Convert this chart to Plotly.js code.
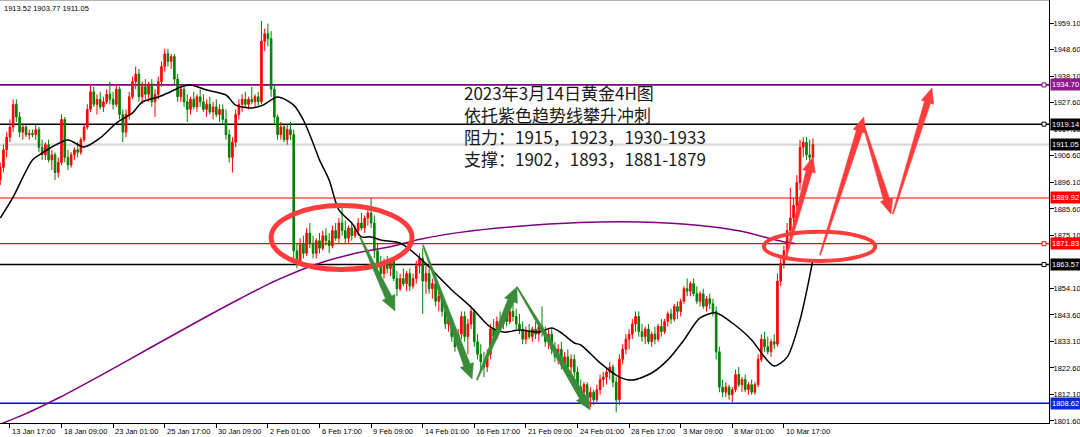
<!DOCTYPE html>
<html><head><meta charset="utf-8">
<script src="https://cdn.plot.ly/plotly-3.0.1.min.js"></script>
<style>html,body{margin:0;padding:0;background:#fff;}#chart{width:1080px;height:437px;}</style>
</head><body><div id="chart"></div>
<script>
// ---- data (XAUUSD H4) ----
const openP = [1893,1897,1902,1909,1914,1918,1927,1922,1916,1918,1915,1915.5,1915,1917,1910,1907,1911,1905,1907,1900,
1904,1921,1906,1903,1907,1909,1908,1913,1918,1925,1932,1927,1929,1926,1928,1931,1929,1927,1933,1923,
1916,1923,1930,1936,1939,1930,1934,1931,1935,1928,1931,1936,1942,1947,1944,1946,1937,1930,1933,1928,
1925,1929,1926,1930,1928,1925,1927,1924,1926,1923,1925,1921,1915,1906,1912,1923,1927,1929,1927,1929,
1928,1930,1928,1952,1955,1953,1933,1922,1915,1918,1913,1917,1915,1869,1865,1872,1868,1876,1872,1868,
1873,1870,1875,1873,1871,1877,1874,1880,1877,1874,1878,1875,1877,1880,1878,1882,1884,1880,1869,1864,
1860,1864,1862,1865,1858,1854,1858,1856,1860,1855,1858,1863,1866,1857,1860,1854,1856,1849,1851,1845,
1840,1842,1835,1831,1836,1843,1835,1840,1845,1833,1828,1825,1823,1828,1838,1835,1841,1840,1844,1841,
1845,1843,1840,1838,1834,1837,1835,1838,1836,1839,1837,1833,1836,1830,1827,1830,1824,1827,1823,1826,
1821,1815,1813,1816,1811,1813,1810,1814,1818,1819,1821,1823,1817,1810,1826,1830,1834,1836,1840,1843,
1837,1835,1838,1833,1836,1834,1839,1837,1841,1844,1842,1847,1845,1849,1854,1853,1856,1852,1849,1852,
1847,1850,1848,1845,1829,1815,1813,1815,1812,1814,1820,1816,1818,1814,1816,1813,1816,1826,1834,1831,
1829,1833,1832,1857,1864,1869,1877,1882,1887,1896,1910,1912,1907,1906];
const highP = [1898,1904,1911,1916,1921,1929,1929,1924,1919,1919,1917,1917,1919,1918,1913,1912,1913,1909,1908,1906,
1923,1922,1909,1908,1910,1912,1914,1919,1927,1935,1934,1931,1932,1930,1933,1936,1932,1935,1934,1925,
1925,1932,1938,1942,1941,1936,1937,1936,1937,1933,1938,1944,1949,1949,1947,1947,1939,1935,1935,1931,
1930,1932,1931,1933,1931,1929,1930,1928,1929,1927,1927,1925,1917,1914,1925,1929,1931,1932,1930,1934,
1931,1932,1960,1957,1959,1956,1935,1923,1920,1919,1919,1920,1917,1872,1874,1875,1878,1880,1875,1874,
1876,1877,1878,1876,1879,1880,1882,1886,1881,1879,1880,1879,1882,1884,1883,1886,1890,1883,1872,1867,
1866,1867,1866,1866,1861,1860,1862,1861,1862,1860,1865,1868,1870,1864,1862,1858,1857,1853,1852,1848,
1844,1843,1838,1838,1845,1845,1842,1847,1846,1836,1832,1829,1830,1840,1842,1843,1845,1845,1846,1847,
1848,1846,1844,1841,1839,1840,1839,1841,1840,1847,1839,1838,1838,1833,1832,1833,1829,1830,1828,1828,
1823,1818,1817,1817,1815,1814,1816,1820,1821,1823,1825,1824,1819,1828,1832,1836,1838,1842,1845,1845,
1840,1839,1840,1837,1839,1840,1842,1842,1845,1846,1848,1849,1850,1855,1858,1857,1858,1855,1853,1854,
1851,1852,1850,1847,1831,1818,1817,1816,1815,1822,1823,1819,1820,1817,1818,1817,1828,1836,1837,1835,
1834,1836,1860,1866,1871,1880,1894,1890,1899,1913,1914,1914,1913,1913.52];
const lowP = [1891,1895,1900,1906,1912,1916,1920,1914,1913,1914,1913,1914,1913,1908,1905,1905,1904,1901,1897,1898,
1903,1904,1901,1902,1905,1906,1907,1912,1917,1924,1926,1923,1925,1924,1927,1927,1925,1926,1921,1912,
1914,1921,1929,1933,1928,1927,1929,1928,1926,1922,1929,1934,1940,1942,1941,1935,1928,1928,1926,1920,
1923,1925,1924,1926,1924,1922,1923,1921,1922,1920,1919,1913,1904,1900,1910,1921,1924,1926,1925,1927,
1926,1926,1927,1948,1950,1930,1919,1913,1913,1912,1911,1913,1866,1862,1863,1866,1867,1870,1866,1866,
1868,1869,1871,1868,1870,1873,1872,1875,1872,1872,1873,1874,1875,1877,1876,1879,1878,1866,1862,1858,
1858,1860,1859,1857,1851,1853,1855,1853,1853,1854,1856,1860,1844,1852,1852,1850,1847,1845,1843,1838,
1837,1833,1829,1830,1834,1833,1828,1838,1831,1826,1822,1819,1821,1826,1833,1834,1838,1838,1839,1840,
1841,1838,1836,1832,1832,1834,1833,1834,1833,1835,1831,1830,1828,1825,1824,1822,1822,1821,1820,1819,
1813,1811,1811,1809,1807,1808,1809,1812,1815,1816,1818,1815,1805,1808,1824,1828,1830,1834,1837,1835,
1833,1832,1832,1831,1832,1833,1835,1836,1839,1840,1841,1842,1843,1848,1851,1851,1851,1848,1847,1846,
1845,1846,1843,1826,1813,1811,1811,1810,1809,1813,1815,1813,1813,1812,1812,1812,1815,1825,1829,1828,
1827,1830,1831,1855,1862,1866,1874,1878,1881,1893,1906,1905,1904,1903.77];
const closeP = [1897,1902,1909,1914,1918,1927,1922,1916,1918,1915,1915.5,1915,1917,1910,1907,1911,1905,1907,1900,1904,
1921,1906,1903,1907,1909,1908,1913,1918,1925,1932,1927,1929,1926,1928,1931,1929,1927,1933,1923,1916,
1923,1930,1936,1939,1930,1934,1931,1935,1928,1931,1936,1942,1947,1944,1946,1937,1930,1933,1928,1925,
1929,1926,1930,1928,1925,1927,1924,1926,1923,1925,1921,1915,1906,1912,1923,1927,1929,1927,1929,1928,
1930,1928,1952,1955,1953,1933,1922,1915,1918,1913,1917,1915,1869,1865,1872,1868,1876,1872,1868,1873,
1870,1875,1873,1871,1877,1874,1880,1877,1874,1878,1875,1877,1880,1878,1882,1884,1880,1869,1864,1860,
1864,1862,1865,1858,1854,1858,1856,1860,1855,1858,1863,1866,1857,1860,1854,1856,1849,1851,1845,1840,
1842,1835,1831,1836,1843,1835,1840,1845,1833,1828,1825,1823,1828,1838,1835,1841,1840,1844,1841,1845,
1843,1840,1838,1834,1837,1835,1838,1836,1839,1837,1833,1836,1830,1827,1830,1824,1827,1823,1826,1821,
1815,1813,1816,1811,1813,1810,1814,1818,1819,1821,1823,1817,1810,1826,1830,1834,1836,1840,1843,1837,
1835,1838,1833,1836,1834,1839,1837,1841,1844,1842,1847,1845,1849,1854,1853,1856,1852,1849,1852,1847,
1850,1848,1845,1829,1815,1813,1815,1812,1814,1820,1816,1818,1814,1816,1813,1816,1826,1834,1831,1829,
1833,1832,1857,1864,1869,1877,1882,1887,1896,1910,1912,1907,1906,1911.05];
const barIndex = closeP.map((_, i) => i);

// black moving average (bar index, price)
const maFastX = [1,5,11,14,17,22,27,32,37,42,45,50,53,57,60,65,71,74,79,82.5,87,92,95,98,100,103,106,110,113,116,119,125,129,134,137,141,147,153,157,162,168,172,175,179,181,187,193,197,203,208,213,218,223,228,234,238,241,245,249,253];
const maFastY = [1882.0,1890.3,1905.0,1907.7,1910.1,1912.9,1910.1,1913.7,1919.6,1923.6,1927.9,1929.9,1931.5,1933.9,1934.7,1932.7,1930.7,1926.7,1925.6,1926.7,1929.9,1926.7,1920.8,1911.7,1905.0,1897.0,1885.2,1880.0,1874.5,1874.5,1873.3,1872.1,1868.5,1862.6,1858.6,1853.5,1846.7,1838.8,1836.8,1837.6,1836.8,1838.4,1836.5,1832.5,1831.7,1824.6,1819.0,1817.8,1820.6,1825.8,1833.7,1842.4,1844.4,1840.4,1833.7,1826.9,1823.4,1826.9,1841.6,1865.4];
// purple moving average
const maSlowX = [0.9,8.1,19.5,31.9,47.4,62.9,75.3,86.8,100.2,112.6,121.9,131.2,143.6,160,180.8,199.4,218,230.4,243.7,247.4];
const maSlowY = [1800.3,1804.0,1811.0,1819.5,1830.5,1841.5,1850.0,1857.4,1864.2,1868.4,1870.6,1873.6,1876.3,1878.5,1880.2,1880.4,1879.0,1876.8,1872.6,1871.9];

const tickIndex = [4,20,36,52,68,84,100,116,132,148,164,180,196,212,228,244];
const tickLabels = ['13 Jan 17:00','18 Jan 09:00','23 Jan 01:00','25 Jan 17:00','30 Jan 09:00','2 Feb 01:00','6 Feb 17:00','9 Feb 09:00','14 Feb 01:00','16 Feb 17:00','21 Feb 09:00','24 Feb 01:00','28 Feb 17:00','3 Mar 09:00','8 Mar 01:00','10 Mar 17:00'];
const priceTicks = [1801.60,1812.10,1822.60,1833.10,1843.60,1854.10,1875.10,1885.60,1896.10,1906.60,1917.10,1927.60,1938.10,1948.60,1959.10];
const levelValues = [1934.70, 1919.14, 1911.05, 1889.92, 1871.83, 1863.57, 1808.62];
const headerText = '1913.52 1903.77 1911.05';
const noteLines = ['2023年3月14日黄金4H图','依托紫色趋势线攀升冲刺','阻力：1915，1923，1930-1933','支撑：1902，1893，1881-1879'];

// ---- styling / geometry ----
const PW = 1049, PH = 423;
const X0 = 0.93, X1 = 326.2;
const Y1 = 1968.33, Y0 = Y1 - PH / 2.525;
const levelStyle = [
  {color:'#800080', width:1.6, box:'#8e1a8e', mark:true},
  {color:'#000000', width:1.6, box:'#000000', mark:true},
  {color:'#d6d6d6', width:2.2, box:'#000000', mark:false},
  {color:'#ff0000', width:1.2, box:'#ff0000', mark:false},
  {color:'#ff0000', width:1.2, box:'#ff0000', mark:true},
  {color:'#000000', width:1.6, box:'#000000', mark:true},
  {color:'#0000ff', width:1.6, box:'#0a2ad6', mark:false}
];
const kToPx = k => (k - X0) / (X1 - X0) * PW;
const vToPy = v => (Y1 - v) / (Y1 - Y0) * PH;
const pxToK = p => X0 + p / PW * (X1 - X0);
const pyToV = p => Y1 - p / PH * (Y1 - Y0);

function arrowPath(tail, tip, o) {
  const tx = kToPx(tail[0]), ty = vToPy(tail[1]);
  const hx = kToPx(tip[0]), hy = vToPy(tip[1]);
  const dx = hx - tx, dy = hy - ty, L = Math.hypot(dx, dy);
  const ux = dx / L, uy = dy / L, nx = -uy, ny = ux;
  const bx = hx - ux * o.head, by = hy - uy * o.head;
  const pts = [
    [tx + nx * o.tail, ty + ny * o.tail],
    [bx + nx * o.shaft, by + ny * o.shaft],
    [bx + nx * o.wing, by + ny * o.wing],
    [hx, hy],
    [bx - nx * o.wing, by - ny * o.wing],
    [bx - nx * o.shaft, by - ny * o.shaft],
    [tx - nx * o.tail, ty - ny * o.tail]
  ];
  return 'M' + pts.map(p => pxToK(p[0]).toFixed(3) + ',' + pyToV(p[1]).toFixed(3)).join(' L') + ' Z';
}

const redArrows = [
  [[244.6,1866.2],[253.0,1906.2]],
  [[255.2,1867.3],[268.8,1922.0]],
  [[268.2,1920.8],[277.2,1883.6]],
  [[277.8,1883.6],[289.9,1933.5]]
];
const greenArrows = [
  [[112.6,1874.5],[123.4,1845.2]],
  [[132.1,1871.3],[147.3,1818.2]],
  [[148.8,1817.8],[161.2,1854.7]],
  [[161.2,1854.7],[183.9,1806.0]]
];

const shapes = [];
levelValues.forEach((v, i) => {
  shapes.push({type:'line', xref:'paper', x0:0, x1:1, yref:'y', y0:v, y1:v, layer:'below',
    line:{color:levelStyle[i].color, width:levelStyle[i].width}});
});
// top border
shapes.push({type:'line', xref:'paper', x0:0, x1:1, yref:'paper', y0:0.9995, y1:0.9995, line:{color:'#9a9a9a', width:1.2}});
// ellipses
shapes.push({type:'circle', xref:'x', yref:'y', x0:85.0, x1:128.7, y0:1861.6, y1:1886.9, line:{color:'#ff3c3c', width:5}});
shapes.push({type:'circle', xref:'x', yref:'y', x0:237.8, x1:272.3, y0:1865.0, y1:1876.5, line:{color:'#ff3c3c', width:4}});
redArrows.forEach(a => shapes.push({type:'path', xref:'x', yref:'y', path:arrowPath(a[0], a[1], {head:15, wing:6.5, shaft:3.2, tail:0.6}),
  fillcolor:'#ff3c3c', line:{color:'#ff3c3c', width:0.5}}));
greenArrows.forEach(a => shapes.push({type:'path', xref:'x', yref:'y', path:arrowPath(a[0], a[1], {head:15, wing:7, shaft:3.4, tail:0.6}),
  fillcolor:'#3a8c3a', line:{color:'#3a8c3a', width:0.5}}));
// small end markers on drawn lines
levelValues.forEach((v, i) => {
  if (!levelStyle[i].mark) return;
  shapes.push({type:'rect', xref:'paper', xsizemode:'pixel', xanchor:1, x0:-7, x1:-3,
    yref:'y', ysizemode:'pixel', yanchor:v, y0:-2, y1:2,
    fillcolor:'#ffffff', line:{color:levelStyle[i].color, width:1}});
});

const smallFont = {family:'Liberation Sans, Arial, sans-serif', size:7.5, color:'#000'};
const annotations = [];
levelValues.forEach((v, i) => {
  annotations.push({xref:'paper', x:1, xanchor:'left', xshift:1, yref:'y', y:v, yanchor:'middle',
    text:v.toFixed(2), showarrow:false, bgcolor:levelStyle[i].box, borderpad:1,
    font:{family:smallFont.family, size:7.5, color:'#ffffff'}});
});
// time labels, left-aligned at their tick like the terminal draws them
tickIndex.forEach((k, i) => {
  annotations.push({xref:'x', x:k, xanchor:'left', xshift:1, yref:'paper', y:0, yanchor:'top', yshift:-3,
    text:tickLabels[i], showarrow:false, font:smallFont, borderpad:0});
});
annotations.push({xref:'paper', x:0, xshift:2, xanchor:'left', yref:'paper', y:1, yshift:-2, yanchor:'top',
  text:headerText, showarrow:false, font:smallFont});
annotations.push({xref:'x', x:pxToK(462), xanchor:'left', yref:'y', y:pyToV(125.6), yanchor:'middle', align:'left',
  text:noteLines.join('<br>'), showarrow:false, font:{family:'Noto Sans CJK SC, sans-serif', size:17, color:'#1a1a1a'}});

const traces = [
  {type:'candlestick', x:barIndex, open:openP, high:highP, low:lowP, close:closeP,
   increasing:{line:{color:'#ff0000', width:1}, fillcolor:'#ff0000'},
   decreasing:{line:{color:'#008000', width:1}, fillcolor:'#008000'},
   whiskerwidth:0, hoverinfo:'skip', showlegend:false},
  {type:'scatter', mode:'lines', x:maSlowX, y:maSlowY, line:{color:'#800080', width:1.5, shape:'spline', smoothing:0.8}, hoverinfo:'skip'},
  {type:'scatter', mode:'lines', x:maFastX, y:maFastY, line:{color:'#000000', width:1.5, shape:'spline', smoothing:0.8}, hoverinfo:'skip'}
];

const layout = {
  width:1080, height:437, margin:{l:0, r:31, t:0, b:14},
  paper_bgcolor:'#ffffff', plot_bgcolor:'#ffffff', showlegend:false,
  xaxis:{range:[X0, X1], tickmode:'array', tickvals:tickIndex, showticklabels:false,
    ticks:'outside', ticklen:4, tickcolor:'#000', tickwidth:1,
    showline:true, linecolor:'#000', linewidth:1, showgrid:false, zeroline:false,
    rangeslider:{visible:false}, fixedrange:true},
  yaxis:{range:[Y0, Y1], side:'right', tickmode:'array', tickvals:priceTicks, ticktext:priceTicks.map(v => v.toFixed(2)),
    ticks:'outside', ticklen:4, tickcolor:'#000', tickwidth:1, ticklabelstandoff:-2,
    showline:true, linecolor:'#000', linewidth:1, showgrid:false, zeroline:false,
    tickfont:smallFont, fixedrange:true},
  shapes:shapes, annotations:annotations
};

Plotly.newPlot('chart', traces, layout, {staticPlot:true, displayModeBar:false});
</script>
</body></html>
